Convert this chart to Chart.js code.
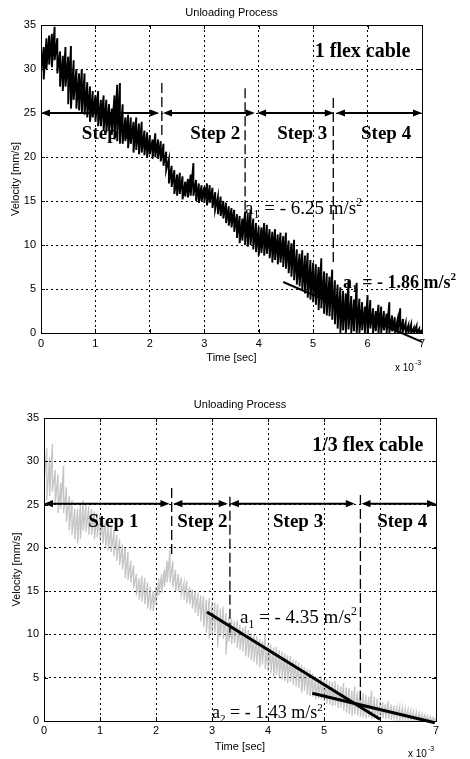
<!DOCTYPE html>
<html><head><meta charset="utf-8">
<script src="https://cdn.jsdelivr.net/npm/chart.js@4.4.1/dist/chart.umd.min.js"></script>
<style>
html,body{margin:0;padding:0;background:#fff;}
#wrap{position:relative;width:470px;height:759px;overflow:hidden;background:#fff;}
canvas{position:absolute;left:0;}
</style></head><body>
<div id="wrap">
<canvas id="c1" width="470" height="380" style="top:0px"></canvas>
<canvas id="c2" width="470" height="379" style="top:380px"></canvas>
</div>
<script>
// ---------- data (time in ms, i.e. x 10^-3 s ; velocity in mm/s) ----------
const timeMs = [0,0.05,0.1,0.15,0.2,0.25,0.3,0.35,0.4,0.45,0.5,0.55,0.6,0.65,0.7,0.75,0.8,0.85,0.9,0.95,
1,1.05,1.1,1.15,1.2,1.25,1.3,1.35,1.4,1.45,1.5,1.55,1.6,1.65,1.7,1.75,1.8,1.85,1.9,1.95,
2,2.05,2.1,2.15,2.2,2.25,2.3,2.35,2.4,2.45,2.5,2.55,2.6,2.65,2.7,2.75,2.8,2.85,2.9,2.95,
3,3.05,3.1,3.15,3.2,3.25,3.3,3.35,3.4,3.45,3.5,3.55,3.6,3.65,3.7,3.75,3.8,3.85,3.9,3.95,
4,4.05,4.1,4.15,4.2,4.25,4.3,4.35,4.4,4.45,4.5,4.55,4.6,4.65,4.7,4.75,4.8,4.85,4.9,4.95,
5,5.05,5.1,5.15,5.2,5.25,5.3,5.35,5.4,5.45,5.5,5.55,5.6,5.65,5.7,5.75,5.8,5.85,5.9,5.95,
6,6.05,6.1,6.15,6.2,6.25,6.3,6.35,6.4,6.45,6.5,6.55,6.6,6.65,6.7,6.75,6.8,6.85,6.9,6.95,7];

// 1 flex cable: upper / lower envelope of the noisy velocity trace
const topHi = [33.0,32.5,33.5,33.8,34.0,34.8,33.5,32.0,31.5,32.5,
 31.4,32.6,31.0,30.0,29.5,30.0,29.5,28.5,28.0,27.5,
 27.0,27.5,26.5,27.0,26.5,26.0,25.5,27.0,28.2,28.4,
 26.0,24.5,24.8,24.5,24.0,24.5,23.8,24.0,23.0,22.8,
 22.5,22.0,22.7,22.0,21.8,21.5,20.6,19.8,19.0,18.5,
 18.0,18.2,17.8,17.2,17.5,18.0,19.3,17.4,17.0,16.8,
 16.6,17.0,16.8,16.5,16.0,15.5,15.5,15.0,14.8,14.4,
 14.2,14.0,13.5,13.3,13.0,13.8,13.5,14.0,13.0,12.5,
 12.1,12.0,12.5,12.3,11.8,11.5,11.8,11.2,11.4,11.0,
 11.4,10.5,10.2,10.6,9.5,9.0,9.4,8.8,9.1,8.3,
 8.0,7.8,7.5,8.5,7.0,6.8,6.4,7.2,6.0,5.5,
 5.2,4.8,4.5,6.0,4.2,3.8,5.7,3.9,3.5,3.0,
 4.3,3.75,2.8,2.5,3.2,3.0,2.5,2.2,3.5,2.0,
 1.8,1.5,2.8,1.6,1.2,0.9,1.0,0.6,0.8,0.5,
 0.3];
const topLo = [29.5,28.8,30.0,30.5,30.2,31.0,29.5,28.0,27.5,28.0,
 26.0,25.5,26.5,25.5,25.3,25.0,24.8,24.5,24.0,24.5,
 24.0,23.5,23.5,23.0,22.8,23.0,22.5,22.0,21.8,21.5,
 21.5,21.8,21.0,21.5,20.5,20.8,20.3,20.5,20.2,20.0,
 20.3,19.8,20.0,19.8,19.5,19.0,18.5,17.0,16.6,15.8,
 15.6,15.8,15.2,15.5,15.4,15.6,15.6,15.0,14.8,15.0,
 14.8,14.5,14.8,14.2,14.0,13.5,13.3,13.0,12.5,12.2,
 12.0,11.5,10.8,10.2,10.5,10.0,9.8,10.0,9.5,9.2,
 8.8,9.1,8.8,9.0,8.5,8.0,8.3,7.8,8.0,7.5,
 7.3,6.8,6.4,6.0,5.5,5.3,4.8,4.5,4.0,3.8,
 3.5,3.2,2.6,2.8,2.2,2.0,1.9,1.5,1.0,0.5,
 0.0,0.3,0.0,0.4,0.0,0.2,0.0,0.0,0.3,0.0,
 0.0,0.5,0.0,0.2,0.0,0.0,0.3,0.0,0.0,0.2,
 0.0,0.0,0.0,0.2,0.0,0.0,0.0,0.0,0.0,0.0,
 0.0];

// 1/3 flex cable: upper / lower envelope
const botHi = [31.0,31.5,30.5,32.0,29.0,28.5,27.5,29.5,27.0,26.0,
 25.5,24.5,24.5,25.0,25.5,25.0,24.8,24.5,24.2,24.0,
 23.8,23.5,23.2,22.7,22.5,22.0,21.5,21.0,20.4,20.0,
 19.5,18.5,18.0,17.0,16.5,16.8,16.5,16.0,15.5,15.0,
 15.5,16.5,17.0,17.5,18.5,19.8,18.5,17.5,17.0,16.6,
 16.0,16.2,15.5,15.2,15.0,14.8,14.5,14.4,14.0,14.2,
 13.8,13.7,13.5,13.0,13.2,12.5,12.0,11.8,11.5,11.6,
 11.1,10.8,11.0,10.5,10.2,10.0,9.8,9.5,9.2,10.0,
 8.9,8.8,8.5,8.6,8.2,8.0,7.8,7.6,7.5,7.1,
 7.0,6.8,6.5,6.2,6.0,5.9,5.5,5.2,5.0,5.2,
 4.8,4.8,4.6,4.5,4.6,4.2,4.0,4.4,3.9,3.8,
 3.5,4.0,3.4,3.7,3.2,3.0,2.8,3.5,2.8,2.6,
 2.3,2.2,2.0,2.3,1.9,1.8,1.6,1.6,1.5,1.4,
 1.3,1.2,1.1,1.0,0.9,0.8,0.7,0.6,0.5,0.4,
 0.3];
const botLo = [27.5,25.5,26.0,26.5,25.0,24.0,24.5,24.0,23.0,22.0,
 21.5,21.0,20.5,21.0,22.0,21.8,21.5,21.5,21.0,21.2,
 20.8,20.5,20.0,19.7,19.5,19.0,18.5,18.0,17.5,16.5,
 16.3,16.0,15.4,14.5,14.0,13.8,13.5,13.0,12.8,12.7,
 13.5,14.5,14.8,15.5,16.0,16.0,15.5,15.0,15.0,14.5,
 14.0,13.6,13.5,13.0,12.5,12.1,11.5,10.8,10.2,9.5,
 10.0,10.2,8.5,9.8,9.5,7.7,9.2,8.9,9.0,8.5,
 8.2,8.0,7.5,7.3,7.0,6.8,6.5,6.2,6.5,6.0,
 5.8,5.5,5.1,5.3,5.0,4.8,4.6,4.4,4.5,4.2,
 4.0,3.8,3.3,3.5,3.0,2.9,2.8,2.5,2.6,2.5,
 2.3,2.0,1.9,1.7,1.8,1.5,1.5,1.2,1.0,0.8,
 0.6,0.8,0.6,0.5,0.4,0.3,0.4,0.2,0.3,0.2,
 0.2,0.3,0.2,0.2,0.1,0.2,0.2,0.1,0.1,0.1,
 0.0,0.0,0.0,0.0,0.0,0.0,0.0,0.0,0.0,0.0,
 0.0];

// fitted deceleration lines
const topFitT = [4.45, 7.0];   const topFitV = [5.8, -1.0];
const botFit1T = [2.91, 6.0];  const botFit1V = [12.6, 0.2];
const botFit2T = [4.79, 6.98]; const botFit2V = [3.2, -0.2];

// axis ticks
const xTickValues = [0,1,2,3,4,5,6,7];
const yTickValues = [0,5,10,15,20,25,30,35];

// step ranges (double arrows) and names
const stepNames = ['Step 1','Step 2','Step 3','Step 4'];
const topStepRanges = [[0,2.17],[2.24,3.93],[3.97,5.38],[5.42,7]];
const botStepRanges = [[0,2.24],[2.31,3.28],[3.32,5.55],[5.67,7]];
const topStepBoundaries = [2.22, 3.75, 5.37];
const botStepBoundaries = [2.28, 3.32, 5.65];

// ---------- annotation layout (positions in data units) ----------
const SANS = '"Liberation Sans", Arial, Helvetica, sans-serif';
const SERIF = '"Liberation Serif", "Times New Roman", Times, serif';

const annot = {
  c1: {
    title: 'Unloading Process', titleGap: 12,
    caption: {text: '1 flex cable', t: 5.03, v: 31.9, size: 20},
    stepV: 22.6, stepSize: 19, stepsOnTop: false, stepTextT: [0.75, 2.74, 4.34, 5.88],
    arrowV: 25, ranges: topStepRanges,
    dashes: [[topStepBoundaries[0], 28.4, 22.5], [topStepBoundaries[1], 27.8, 13.6], [topStepBoundaries[2], 26.7, 7.9]],
    formulas: [
      {parts: [{s:'a'},{s:'1',sub:1},{s:' = - 6.25 m/s'},{s:'2',sup:1}], t: 3.75, v: 14.2, size: 19, weight: 'normal'},
      {parts: [{s:'a'},{s:'1',sub:1},{s:' = - 1.86 m/s'},{s:'2',sup:1}], t: 5.55, v: 5.8, size: 18, weight: 'bold'}
    ],
    expX: 395, expY: 368
  },
  c2: {
    title: 'Unloading Process', titleGap: 13,
    caption: {text: '1/3 flex cable', t: 4.79, v: 31.8, size: 20},
    stepV: 23.0, stepSize: 19, stepsOnTop: true, stepTextT: [0.79, 2.38, 4.09, 5.95],
    arrowV: 25.1, ranges: botStepRanges,
    dashes: [[botStepBoundaries[0], 26.9, 18.9], [botStepBoundaries[1], 25.9, 9.7], [botStepBoundaries[2], 26.1, 2.4]],
    formulas: [
      {parts: [{s:'a'},{s:'1',sub:1},{s:' = - 4.35 m/s'},{s:'2',sup:1}], t: 3.5, v: 12.0, size: 19, weight: 'normal'},
      {parts: [{s:'a'},{s:'2',sub:1},{s:' = - 1.43 m/s'},{s:'2',sup:1}], t: 3.0, v: 1.0, size: 18, weight: 'normal'}
    ],
    expX: 408, expY: 374
  }
};

// ---------- helpers ----------
function band(hi, lo) {
  const pts = [];
  for (let i = 0; i < timeMs.length; i++) {
    pts.push({x: timeMs[i], y: hi[i]});
    pts.push({x: timeMs[i], y: lo[i]});
  }
  return pts;
}
function pairs(ts, vs) { return ts.map((t, i) => ({x: t, y: vs[i]})); }

function drawRich(ctx, parts, x, y, size, weight) {
  const base = y + size * 0.33;
  let cx = x;
  ctx.textAlign = 'left'; ctx.textBaseline = 'alphabetic'; ctx.fillStyle = '#000';
  for (const p of parts) {
    let fs = size, dy = 0;
    if (p.sub) { fs = size * 0.62; dy = size * 0.22; }
    if (p.sup) { fs = size * 0.62; dy = -size * 0.42; }
    ctx.font = weight + ' ' + fs + 'px ' + SERIF;
    ctx.fillText(p.s, cx, base + dy);
    cx += ctx.measureText(p.s).width;
  }
}
function drawArrow(ctx, x1, x2, y) {
  const L = 9, W = 3.6;
  ctx.save();
  ctx.setLineDash([]);
  ctx.strokeStyle = '#000'; ctx.fillStyle = '#000'; ctx.lineWidth = 2;
  ctx.beginPath(); ctx.moveTo(x1 + L - 1, y); ctx.lineTo(x2 - L + 1, y); ctx.stroke();
  ctx.beginPath(); ctx.moveTo(x1, y); ctx.lineTo(x1 + L, y - W); ctx.lineTo(x1 + L, y + W); ctx.closePath(); ctx.fill();
  ctx.beginPath(); ctx.moveTo(x2, y); ctx.lineTo(x2 - L, y - W); ctx.lineTo(x2 - L, y + W); ctx.closePath(); ctx.fill();
  ctx.restore();
}
function drawSteps(chart, a) {
  const ctx = chart.ctx, X = chart.scales.x, Y = chart.scales.y;
  ctx.save();
  ctx.font = 'bold ' + a.stepSize + 'px ' + SERIF;
  ctx.fillStyle = '#000'; ctx.textAlign = 'left'; ctx.textBaseline = 'middle';
  a.stepTextT.forEach((t, i) => ctx.fillText(stepNames[i], X.getPixelForValue(t), Y.getPixelForValue(a.stepV)));
  ctx.restore();
}

const annotPlugin = {
  id: 'annot',
  beforeDatasetsDraw(chart) {
    const a = annot[chart.canvas.id];
    if (!a.stepsOnTop) drawSteps(chart, a);
  },
  afterDatasetsDraw(chart) {
    const a = annot[chart.canvas.id];
    const ctx = chart.ctx, X = chart.scales.x, Y = chart.scales.y, ca = chart.chartArea;
    if (a.stepsOnTop) drawSteps(chart, a);
    // axes box and inner ticks
    ctx.save();
    ctx.setLineDash([]); ctx.strokeStyle = '#000'; ctx.lineWidth = 1;
    ctx.strokeRect(Math.round(ca.left) + 0.5, Math.round(ca.top) + 0.5, Math.round(ca.right - ca.left), Math.round(ca.bottom - ca.top));
    ctx.beginPath();
    xTickValues.forEach(t => {
      const x = Math.round(X.getPixelForValue(t)) + 0.5;
      ctx.moveTo(x, ca.bottom); ctx.lineTo(x, ca.bottom - 4);
      ctx.moveTo(x, ca.top); ctx.lineTo(x, ca.top + 4);
    });
    yTickValues.forEach(v => {
      const y = Math.round(Y.getPixelForValue(v)) + 0.5;
      ctx.moveTo(ca.left, y); ctx.lineTo(ca.left + 4, y);
      ctx.moveTo(ca.right, y); ctx.lineTo(ca.right - 4, y);
    });
    ctx.stroke();
    // dashed step boundaries
    ctx.lineWidth = 1.3; ctx.setLineDash([10, 4]);
    a.dashes.forEach(d => {
      const x = X.getPixelForValue(d[0]);
      ctx.beginPath(); ctx.moveTo(x, Y.getPixelForValue(d[1])); ctx.lineTo(x, Y.getPixelForValue(d[2])); ctx.stroke();
    });
    ctx.restore();
    // arrows
    const ya = Y.getPixelForValue(a.arrowV);
    a.ranges.forEach(r => drawArrow(ctx, X.getPixelForValue(r[0]), X.getPixelForValue(r[1]), ya));
    // caption
    ctx.save();
    ctx.font = 'bold ' + a.caption.size + 'px ' + SERIF;
    ctx.fillStyle = '#000'; ctx.textAlign = 'left'; ctx.textBaseline = 'middle';
    ctx.fillText(a.caption.text, X.getPixelForValue(a.caption.t), Y.getPixelForValue(a.caption.v));
    ctx.restore();
    // formulas
    a.formulas.forEach(f => drawRich(ctx, f.parts, X.getPixelForValue(f.t), Y.getPixelForValue(f.v), f.size, f.weight));
  },
  afterDraw(chart) {
    const a = annot[chart.canvas.id];
    const ctx = chart.ctx, ca = chart.chartArea;
    ctx.save();
    ctx.fillStyle = '#000';
    ctx.font = '11px ' + SANS; ctx.textAlign = 'center'; ctx.textBaseline = 'middle';
    ctx.fillText(a.title, (ca.left + ca.right) / 2, ca.top - a.titleGap);
    // x 10^-3
    ctx.textAlign = 'left';
    ctx.font = '10px ' + SANS;
    ctx.fillText('x 10', a.expX, a.expY);
    const w = ctx.measureText('x 10').width;
    ctx.font = '7px ' + SANS;
    ctx.fillText('-3', a.expX + w + 1, a.expY - 5);
    ctx.restore();
  }
};

function makeChart(id, datasets, L) {
  return new Chart(document.getElementById(id), {
    type: 'line',
    data: {datasets},
    options: {
      responsive: false, animation: false, events: [],
      layout: {padding: {left: 0, top: L.padTop, right: L.padRight, bottom: 0}},
      plugins: {legend: {display: false}, tooltip: {enabled: false}, title: {display: false}},
      elements: {point: {radius: 0}, line: {tension: 0}},
      scales: {
        x: {
          type: 'linear', min: 0, max: 7,
          afterFit: s => { s.height = L.xAxisH; },
          afterBuildTicks: s => { s.ticks = xTickValues.map(v => ({value: v})); },
          grid: {color: '#000', lineWidth: 1, drawTicks: false},
          border: {display: false, dash: [2, 3]},
          ticks: {color: '#000', font: {family: SANS, size: 11}, padding: L.xTickPad, maxRotation: 0, autoSkip: false},
          title: {display: true, text: 'Time [sec]', color: '#000', font: {family: SANS, size: 11}, padding: {top: 0, bottom: L.xTitlePad}}
        },
        y: {
          type: 'linear', min: 0, max: 35,
          afterFit: s => { s.width = L.yAxisW; },
          afterBuildTicks: s => { s.ticks = yTickValues.map(v => ({value: v})); },
          grid: {color: '#000', lineWidth: 1, drawTicks: false},
          border: {display: false, dash: [2, 3]},
          ticks: {color: '#000', font: {family: SANS, size: 11}, padding: 5, autoSkip: false},
          title: {display: true, text: 'Velocity [mm/s]', color: '#000', font: {family: SANS, size: 11}, padding: {top: L.yTitlePad, bottom: 0}}
        }
      }
    },
    plugins: [annotPlugin]
  });
}

// order: lower value is drawn later (on top) -> fitted lines above the noisy trace
makeChart('c1', [
  {data: band(topHi, topLo), borderColor: '#000', borderWidth: 1.9, pointRadius: 0, order: 2},
  {data: pairs(topFitT, topFitV), borderColor: '#000', borderWidth: 2, pointRadius: 0, clip: false, order: 1}
], {padTop: 25, padRight: 48, yAxisW: 41, xAxisH: 47, xTickPad: 4, xTitlePad: 15.4, yTitlePad: 9.4});

makeChart('c2', [
  {data: band(botHi, botLo), borderColor: 'rgba(150,150,150,0.55)', borderWidth: 1.3, pointRadius: 0, order: 2},
  {data: pairs(botFit1T, botFit1V), borderColor: '#000', borderWidth: 3, pointRadius: 0, clip: false, order: 1},
  {data: pairs(botFit2T, botFit2V), borderColor: '#000', borderWidth: 3, pointRadius: 0, clip: false, order: 1}
], {padTop: 38, padRight: 34, yAxisW: 44, xAxisH: 38, xTickPad: 3.5, xTitlePad: 5.4, yTitlePad: 10.4});
</script>
</body></html>
